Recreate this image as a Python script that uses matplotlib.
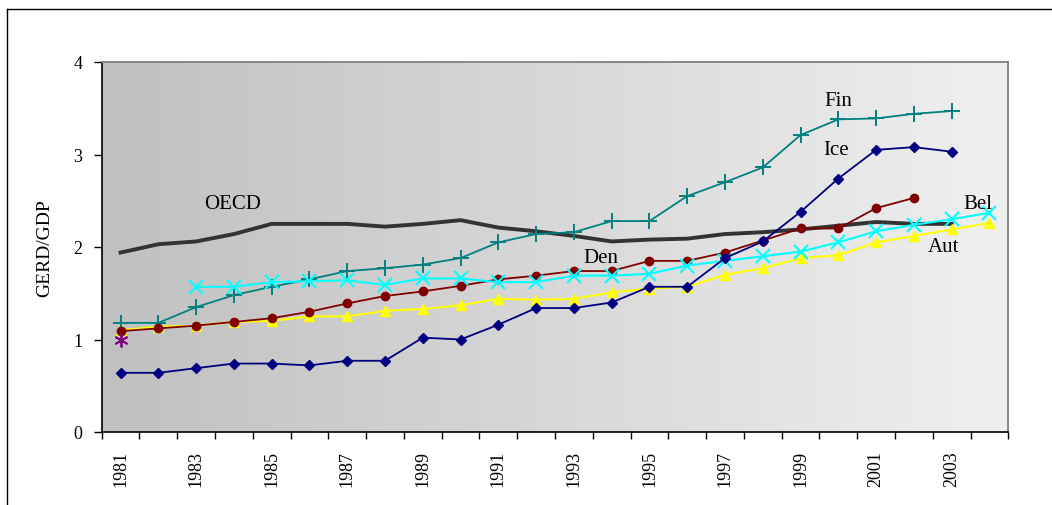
import numpy as np
import matplotlib
matplotlib.use("Agg")
import matplotlib.pyplot as plt
from matplotlib.lines import Line2D

years = list(range(1981, 2005))
oecd = [1.94, 2.03, 2.06, 2.14, 2.25, 2.25, 2.25, 2.22, 2.25, 2.29, 2.21, 2.17,
        2.12, 2.06, 2.08, 2.09, 2.14, 2.16, 2.19, 2.23, 2.27, 2.25, 2.25]
fin = [1.18, 1.18, 1.35, 1.48, 1.57, 1.65, 1.74, 1.77, 1.81, 1.88, 2.05, 2.14,
       2.16, 2.28, 2.28, 2.55, 2.70, 2.86, 3.21, 3.38, 3.39, 3.44, 3.47]
ice = [0.64, 0.64, 0.69, 0.74, 0.74, 0.72, 0.77, 0.77, 1.02, 1.00, 1.16, 1.34,
       1.34, 1.40, 1.57, 1.57, 1.88, 2.06, 2.38, 2.74, 3.05, 3.08, 3.03]
den = [1.09, 1.12, 1.15, 1.19, 1.23, 1.30, 1.39, 1.47, 1.52, 1.58, 1.65, 1.69,
       1.74, 1.74, 1.85, 1.85, 1.94, 2.07, 2.20, 2.20, 2.42, 2.53]
bel_years = list(range(1983, 2005))
bel = [1.57, 1.57, 1.62, 1.63, 1.64, 1.59, 1.66, 1.66, 1.62, 1.62, 1.69, 1.69,
       1.71, 1.80, 1.85, 1.90, 1.95, 2.05, 2.17, 2.24, 2.30, 2.37]
aut = [1.10, 1.14, 1.15, 1.19, 1.20, 1.25, 1.25, 1.31, 1.33, 1.37, 1.44, 1.43,
       1.44, 1.51, 1.55, 1.57, 1.70, 1.77, 1.88, 1.91, 2.05, 2.12, 2.19, 2.26]
other_year = [1981]
other = [1.00]
ytick_vals = [0, 1, 2, 3, 4]
xlabel_years = list(range(1981, 2004, 2))

W, H = 1052, 506
fig = plt.figure(figsize=(W / 100, H / 100), dpi=100)
# outer frame lines
fig.add_artist(Line2D([7 / W, 1.0], [1 - 9.5 / H, 1 - 9.5 / H], color='black', lw=1.0))
fig.add_artist(Line2D([7 / W, 7 / W], [0, 1 - 9.5 / H], color='black', lw=1.0))

left, right, top, bottom = 101.7 / W, 1008.3 / W, 1 - 63 / H, 1 - 433 / H
ax = fig.add_axes([left, bottom, right - left, top - bottom])

# gradient background
grad = np.linspace(192, 240, 256)[None, :] / 255.0
ax.imshow(np.dstack([grad, grad, grad]), extent=[0, 1, 0, 1], transform=ax.transAxes,
          aspect='auto', zorder=0)

serif = 'Liberation Serif'

ax.plot(years[:len(oecd)], oecd, color='#333333', lw=2.8, zorder=3, solid_joinstyle='round')
ax.plot(years[:len(fin)], fin, color='#008080', lw=1.3, marker='+', ms=11, mew=1.4, zorder=4)
ax.plot(years[:len(ice)], ice, color='#000080', lw=1.3, marker='D', ms=5.5, zorder=5)
ax.plot(years[:len(den)], den, color='#800000', lw=1.3, marker='o', ms=6, zorder=4)
ax.plot(bel_years, bel, color='#00FFFF', lw=1.5, marker='x', ms=10, mew=1.5, zorder=4)
ax.plot(years[:len(aut)], aut, color='#FFFF00', lw=1.5, marker='^', ms=7, zorder=3)
ax.plot(other_year, other, color='#800080', lw=0, marker=(6, 2, 0), ms=10, mew=1.3, zorder=6)

ax.set_xlim(1980.5, 2004.5)
ax.set_ylim(0, 4)

ax.set_yticks(ytick_vals)
ax.set_yticklabels([str(v) for v in ytick_vals], fontfamily=serif, fontsize=13)
ax.tick_params(axis='y', direction='out', length=6, width=1.0, pad=8)

ax.set_xticks(np.arange(1980.5, 2005.5, 1.0))
ax.set_xticklabels([])
ax.tick_params(axis='x', which='major', direction='out', length=5, width=1.0)
ax.set_xticks(xlabel_years, minor=True)
ax.set_xticklabels([str(y) for y in xlabel_years], minor=True, rotation=90,
                   fontfamily=serif, fontsize=13)
ax.tick_params(axis='x', which='minor', length=0, pad=13)

for s in ['left', 'bottom']:
    ax.spines[s].set_color('black')
    ax.spines[s].set_linewidth(1.2)
for s in ['top', 'right']:
    ax.spines[s].set_color('#808080')
    ax.spines[s].set_linewidth(1.3)

ax.set_ylabel('GERD/GDP', fontfamily=serif, fontsize=14, labelpad=14)

labels = [('OECD', 1983.97, 2.47), ('Fin', 1999.99, 3.58), ('Ice', 1999.94, 3.05),
          ('Den', 1993.71, 1.89), ('Bel', 2003.69, 2.47), ('Aut', 2002.79, 2.01)]
for t, x, y in labels:
    ax.text(x, y, t, fontfamily=serif, fontsize=15, ha='center', va='center', zorder=7)

fig.savefig('out.png', dpi=100)
